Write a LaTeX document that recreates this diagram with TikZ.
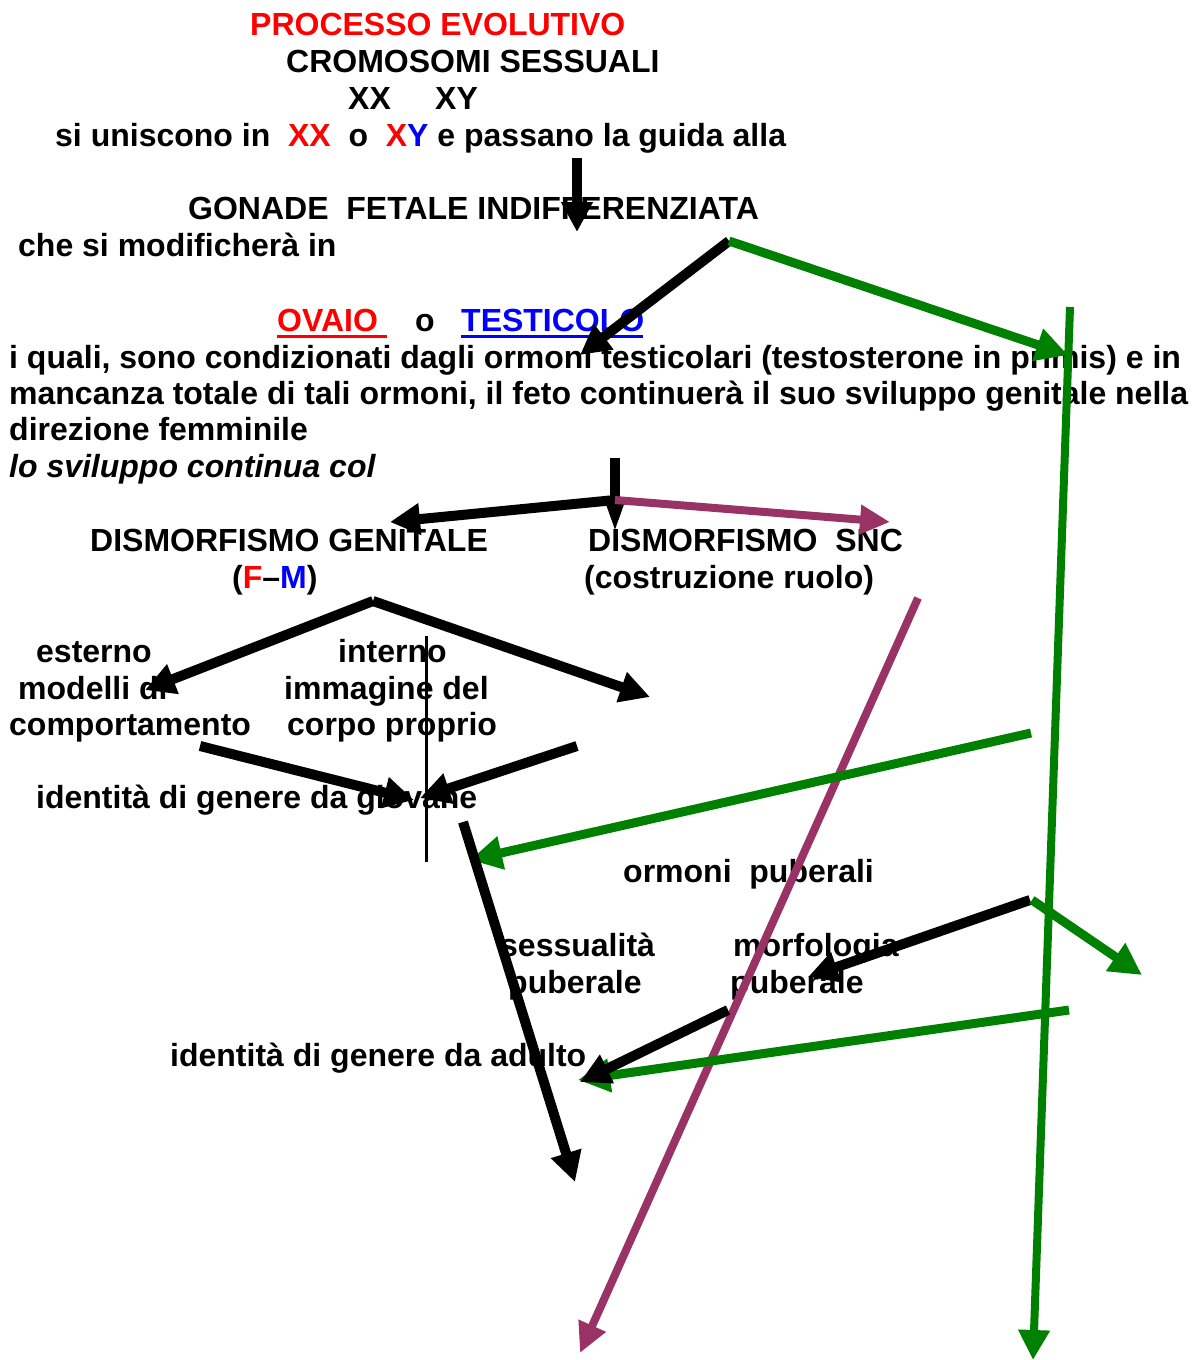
\documentclass[tikz,border=0pt]{standalone}
\usepackage{fontspec}
\setmainfont{Liberation Sans}
\usetikzlibrary{arrows.meta}
\definecolor{cred}{RGB}{255,0,0}
\definecolor{cblue}{RGB}{0,0,255}
\definecolor{cgreen}{RGB}{0,128,0}
\definecolor{cpurple}{RGB}{153,51,102}
\begin{document}
\begin{tikzpicture}[x=1pt,y=-1pt,
  txt/.style={anchor=base west, inner sep=0pt, font=\fontsize{32}{37}\selectfont\bfseries},
  blk/.style={draw=black, line width=10pt, -{Triangle[length=30pt,width=30pt]}},
  thinblk/.style={draw=black, line width=3pt},
  grn/.style={draw=cgreen, line width=9pt, -{Triangle[length=32pt,width=32pt]}},
  grnthin/.style={draw=cgreen, line width=8pt, -{Triangle[length=30pt,width=30pt]}},
  prp/.style={draw=cpurple, line width=8pt, -{Triangle[length=30pt,width=28pt]}},
  uline/.style={line width=3pt}]
\useasboundingbox (0,0) rectangle (1195,1360);
% texts
\node[txt, text=cred] (t1) at (250,35) {PROCESSO EVOLUTIVO};
\node[txt] (t2) at (286,72) {CROMOSOMI SESSUALI};
\node[txt] (t3a) at (348,109) {XX};
\node[txt] (t3b) at (435,109) {XY};
\node[txt] (t4) at (55,146) {si uniscono in \ \textcolor{cred}{XX} \ o \ \textcolor{cred}{X}\textcolor{cblue}{Y} e passano la guida alla};
\node[txt] (t5) at (188,219) {GONADE \ FETALE INDIFFERENZIATA};
\node[txt] (t6) at (18,256) {che si modificherà in};
\node[txt, text=cred] (ov) at (277,331) {OVAIO};
\node[txt] (oo) at (415,331) {o};
\node[txt, text=cblue] (te) at (461,331) {TESTICOLO};
\draw[uline, cred] (277,336) -- (387,336);
\draw[uline, cblue] (461,336) -- (643,336);
\node[txt] (t8) at (9,368) {i quali, sono condizionati dagli ormoni testicolari (testosterone in primis) e in};
\node[txt] (t9) at (9,404) {mancanza totale di tali ormoni, il feto continuerà il suo sviluppo genitale nella};
\node[txt] (t10) at (9,440) {direzione femminile};
\node[txt, font=\fontsize{32}{37}\selectfont\bfseries\itshape] (t11) at (9,477) {lo sviluppo continua col};
\node[txt] (dg) at (90,551) {DISMORFISMO GENITALE};
\node[txt] (ds) at (588,551) {DISMORFISMO \ SNC};
\node[txt] (fm) at (232,588) {(\textcolor{cred}{F}–\textcolor{cblue}{M})};
\node[txt] (cr) at (584,588) {(costruzione ruolo)};
\node[txt] (e1) at (36,662) {esterno};
\node[txt] (e2) at (18,699) {modelli di};
\node[txt] (e3) at (9,735) {comportamento};
\node[txt] (i1) at (338,662) {interno};
\node[txt] (i2) at (284,699) {immagine del};
\node[txt] (i3) at (287,735) {corpo proprio};
\node[txt] (ig) at (36,808) {identità di genere da giovane};
\node[txt] (op) at (623,882) {ormoni \ puberali};
\node[txt] (s1) at (500,956) {sessualità};
\node[txt] (s2) at (508,993) {puberale};
\node[txt] (m1) at (733,956) {morfologia};
\node[txt] (m2) at (730,993) {puberale};
\node[txt] (ia) at (170,1066) {identità di genere da adulto};
% coordinates
\coordinate (a1s) at (577,158); \coordinate (a1e) at (577,232);
\coordinate (g0) at (729,241);
\coordinate (a2e) at (580,355);
\coordinate (g1e) at (1068,355);
\coordinate (gvs) at (1070,307); \coordinate (gve) at (1033,1360);
\coordinate (b0) at (615,458); \coordinate (b1) at (615,500); \coordinate (b1e) at (615,530);
\coordinate (bl) at (390,522); \coordinate (pr) at (890,522);
\coordinate (f0) at (373,601); \coordinate (fl) at (145,690); \coordinate (fr) at (650,697);
\coordinate (v0) at (426,636); \coordinate (v1) at (426,862);
\coordinate (c0) at (200,746); \coordinate (c1) at (414,800);
\coordinate (d0) at (577,746); \coordinate (d1) at (420,798);
\coordinate (p0) at (918,598); \coordinate (p1) at (580,1353);
\coordinate (h0) at (1031,733); \coordinate (h1) at (470,860);
\coordinate (k0) at (463,822); \coordinate (k1) at (575,1182);
\coordinate (m0) at (1030,900); \coordinate (me) at (808,977);
\coordinate (n0) at (1032,900); \coordinate (ne) at (1142,975);
\coordinate (q0) at (1069,1010); \coordinate (qe) at (578,1080);
\coordinate (r0) at (728,1010); \coordinate (re) at (580,1082);
% connectors
\draw[blk] (a1s) -- (a1e);
\draw[blk] (g0) -- (a2e);
\draw[grn] (g0) -- (g1e);
\draw[grnthin] (gvs) -- (gve);
\draw[draw=black, line width=10pt] (b0) -- (b1);
\draw[draw=black, line width=4pt, -{Triangle[length=30pt,width=20pt]}] (b1) -- (b1e);
\draw[blk] (b1) -- (bl);
\draw[prp] (b1) -- (pr);
\draw[blk] (f0) -- (fl);
\draw[blk] (f0) -- (fr);
\draw[thinblk] (v0) -- (v1);
\draw[blk] (c0) -- (c1);
\draw[blk] (d0) -- (d1);
\draw[prp] (p0) -- (p1);
\draw[grn] (h0) -- (h1);
\draw[blk] (k0) -- (k1);
\draw[blk] (m0) -- (me);
\draw[grn] (n0) -- (ne);
\draw[grn] (q0) -- (qe);
\draw[blk] (r0) -- (re);
\end{tikzpicture}
\end{document}
